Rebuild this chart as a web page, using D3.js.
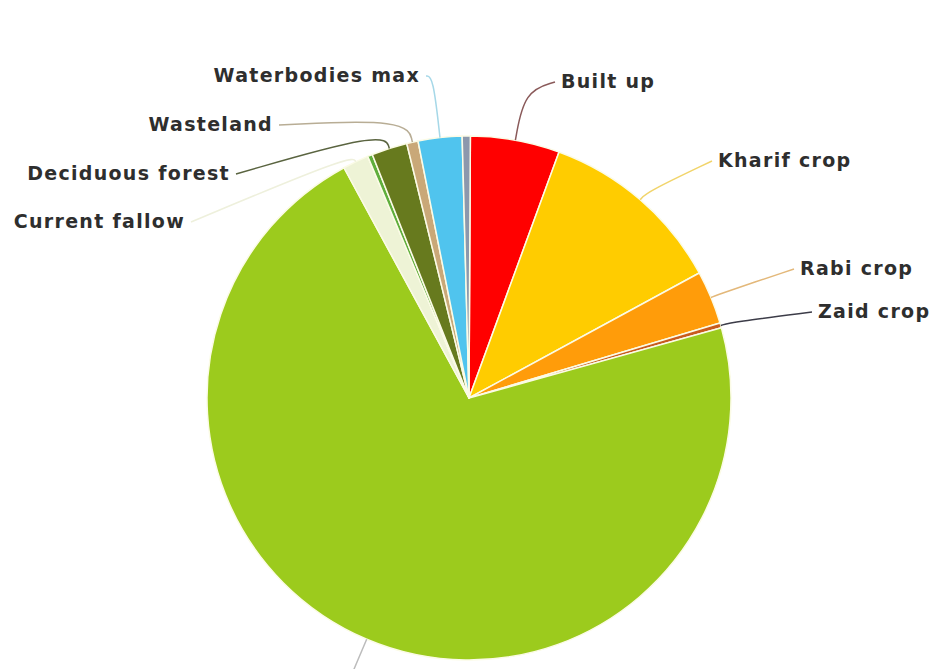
<!DOCTYPE html>
<html>
<head>
<meta charset="utf-8">
<script src="https://cdn.jsdelivr.net/npm/d3@7"></script>
<style>
  body { margin: 0; background: #fff; }
  svg { display: block; }
  .lbl { font-family: "DejaVu Sans", sans-serif; font-weight: bold; font-size: 19px; letter-spacing: 1.3px; fill: #2e2e2e; }
</style>
</head>
<body>
<svg width="933" height="669"></svg>
<script>
// land use categories, clockwise from the top
const categories = ["Built up", "Kharif crop", "Rabi crop", "Zaid crop", "Double/Triple crop",
  "Current fallow", "Scrub forest", "Deciduous forest", "Wasteland", "Waterbodies max", "Waterbodies min"];
// share of area in percent
const shares = [5.5, 11.5, 3.3, 0.3, 71.4, 1.6, 0.3, 2.2, 0.7, 2.7, 0.5];

const colors = ["#ff0000", "#ffcc00", "#ff9c0a", "#c85a1e", "#9ccb1d",
  "#eef3d6", "#5fae3c", "#677a1e", "#c9a878", "#50c4ee", "#8c98ad"];
const leaderColors = ["#8a5a5a", "#f1d46a", "#e3b87a", "#3c3c48", "#bcbcbc",
  "#eef0dc", "#888", "#5a6440", "#b8ad95", "#a6d8e8", "#888"];

// label layout: [text x, baseline y, anchor, elbow distance beyond the rim]
const labelLayout = {
  "Built up":         [561, 88, "start", 50],
  "Kharif crop":      [718, 167, "start", 10],
  "Rabi crop":        [800, 275, "start", 10],
  "Zaid crop":        [818, 318, "start", 12],
  "Current fallow":   [185, 228, "end", 8],
  "Deciduous forest": [230, 180, "end", 18],
  "Wasteland":        [273, 131, "end", 24],
  "Waterbodies max":  [420, 82, "end", 62]
};

const svg = d3.select("svg");
const cx = 469, cy = 398, radius = 262;
const g = svg.append("g").attr("transform", `translate(${cx},${cy})`);

const data = categories.map((c, i) => ({ name: c, value: shares[i], color: colors[i], leader: leaderColors[i] }));

const offset = 0.3 * Math.PI / 180;
const pie = d3.pie().sort(null).value(d => d.value)
  .startAngle(offset).endAngle(2 * Math.PI + offset);
const arcs = pie(data);

const arc = d3.arc().innerRadius(0).outerRadius(radius);

g.selectAll("path.slice")
  .data(arcs)
  .enter()
  .append("path")
  .attr("class", "slice")
  .attr("d", arc)
  .attr("fill", d => d.data.color)
  .attr("stroke", "#fbfbe6")
  .attr("stroke-width", 1.5)
  .attr("stroke-linejoin", "round");

function polar(angle, r) {
  return [r * Math.sin(angle), -r * Math.cos(angle)];
}

const leaderLine = d3.line().curve(d3.curveBasis);

// leader lines and labels
arcs.forEach(a => {
  const mid = (a.startAngle + a.endAngle) / 2;
  const edge = polar(mid, radius);
  const lay = labelLayout[a.data.name];
  if (!lay) {
    // the big slice's label sits below the visible area; only its leader shows
    if (a.data.name === "Double/Triple crop") {
      const p1 = polar(mid, radius + 40);
      g.append("path")
        .attr("d", leaderLine([edge, polar(mid, radius + 15), p1]))
        .attr("fill", "none").attr("stroke", a.data.leader).attr("stroke-width", 1.5);
    }
    return;
  }
  const [tx, ty, anchor, dist] = lay;
  const elbow = polar(mid, radius + dist);
  const gap = anchor === "start" ? -6 : 6;
  const end = [tx + gap - cx, ty - 6 - cy];
  g.append("path")
    .attr("d", leaderLine([edge, elbow, end]))
    .attr("fill", "none")
    .attr("stroke", a.data.leader)
    .attr("stroke-width", 1.5);
  svg.append("text")
    .attr("class", "lbl")
    .attr("x", tx)
    .attr("y", ty)
    .attr("text-anchor", anchor)
    .text(a.data.name);
});
</script>
</body>
</html>
